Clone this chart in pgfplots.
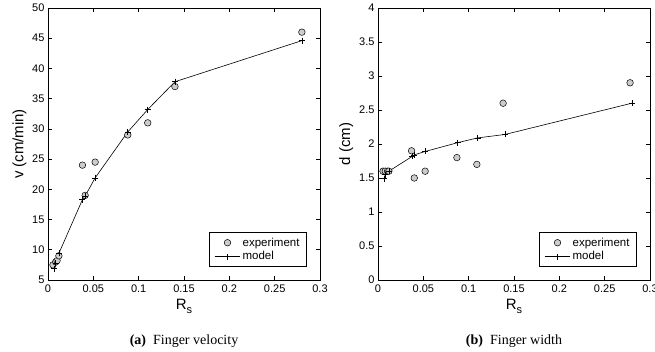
\documentclass[border=0pt]{standalone}
\usepackage{pgfplots}
\pgfplotsset{compat=1.18}
\usepackage{fontspec}
\setmainfont{Liberation Serif}
\newfontfamily\helv{Liberation Sans}
\begin{document}
\begin{tikzpicture}[x=1pt,y=1pt]
\useasboundingbox (0,0) rectangle (655,352);
\pgfplotsset{
  myax/.style={
    scale only axis, width=272pt, height=272pt,
    xmin=0, xmax=0.3,
    xtick={0,0.05,0.1,0.15,0.2,0.25,0.3},
    xticklabels={0,0.05,0.1,0.15,0.2,0.25,0.3},
    /pgf/number format/assume math mode=true,
    tick align=inside, tick pos=both,
    major tick length=4pt,
    axis line style={line width=0.9pt},
    every tick/.style={black, line width=0.6pt},
    tick label style={font=\helv\fontsize{11}{13}\selectfont},
    xticklabel style={yshift=-1pt},
    label style={font=\helv\fontsize{15}{17}\selectfont},
    xlabel={R\raisebox{-3.5pt}{\helv\fontsize{11}{12}\selectfont s}},
    xlabel style={yshift=0pt},
    legend style={at={(rel axis cs:0.952,0.048)}, anchor=south east,
      font=\helv\fontsize{11.5}{13}\selectfont, draw=black, line width=0.9pt,
      inner xsep=5pt, inner ysep=3pt, row sep=0pt, legend cell align=left},
    legend image post style={line width=0.6pt},
    legend image code/.code={\draw[mark repeat=2,mark phase=2,#1] plot coordinates {(0cm,0cm) (0.45cm,0cm) (0.9cm,0cm)};},
  },
  expst/.style={only marks, mark=*, mark size=3.3pt,
     mark options={fill=black!20, draw=black, line width=0.5pt}},
  modst/.style={black, line width=0.6pt, mark=+, mark size=3pt,
     mark options={line width=0.6pt}},
}
\begin{axis}[myax, at={(48pt,72pt)}, anchor=south west,
  ymin=5, ymax=50, ytick={5,10,...,50},
  ylabel={v (cm/min)}, ylabel style={yshift=-1pt}]
\addplot[expst] coordinates {
(0.0055,7.5) (0.0085,8.0) (0.010,8.2) (0.012,9.0) (0.038,24) (0.041,19)
(0.052,24.5) (0.088,29) (0.110,31) (0.140,37) (0.280,46)};
\addlegendentry{experiment}
\addplot[modst] coordinates {
(0.0066,6.9) (0.0085,7.8) (0.012,9.4) (0.038,18.3) (0.041,18.9)
(0.052,21.9) (0.088,29.5) (0.110,33.2) (0.140,37.8) (0.280,44.6)};
\addlegendentry{model}
\end{axis}
\begin{axis}[myax, at={(378pt,72pt)}, anchor=south west,
  ymin=0, ymax=4, ytick={0,0.5,...,4},
  yticklabels={0,0.5,1,1.5,2,2.5,3,3.5,4},
  ylabel={d (cm)}, ylabel style={yshift=-1pt}]
\addplot[expst] coordinates {
(0.0055,1.6) (0.008,1.6) (0.0106,1.6) (0.012,1.6) (0.037,1.9) (0.040,1.5)
(0.052,1.6) (0.087,1.8) (0.109,1.7) (0.138,2.6) (0.278,2.9)};
\addlegendentry{experiment}
\addplot[modst] coordinates {
(0.0066,1.49) (0.008,1.55) (0.012,1.6) (0.038,1.82) (0.040,1.84)
(0.052,1.89) (0.088,2.02) (0.110,2.09) (0.140,2.14) (0.280,2.6)};
\addlegendentry{model}
\end{axis}
\node[font=\fontsize{14}{16}\selectfont] at (184,11) {\textbf{(a)}\enspace Finger velocity};
\node[font=\fontsize{14}{16}\selectfont] at (514,11) {\textbf{(b)}\enspace Finger width};
\end{tikzpicture}
\end{document}
